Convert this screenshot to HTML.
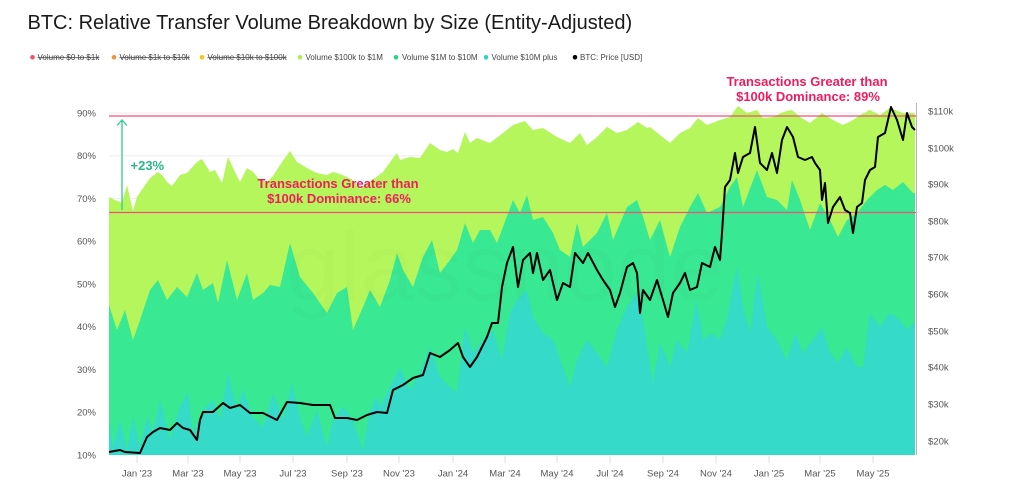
<!DOCTYPE html>
<html>
<head>
<meta charset="utf-8">
<style>
  html, body { margin:0; padding:0; background:#ffffff; }
  body { width:1024px; height:494px; overflow:hidden; font-family:"Liberation Sans", Arial, sans-serif; }
  svg { display:block; }
  .ax { font-family:"Liberation Sans", Arial, sans-serif; font-size:9.5px; fill:#555; }
  .lg { font-family:"Liberation Sans", Arial, sans-serif; font-size:8px; fill:#444; }
  .ann { font-family:"Liberation Sans", Arial, sans-serif; font-size:13px; font-weight:bold; fill:#f01c5e; }
</style>
</head>
<body>
<svg width="1024" height="494" viewBox="0 0 1024 494" xmlns="http://www.w3.org/2000/svg">
  <rect x="0" y="0" width="1024" height="494" fill="#ffffff"/>

  <!-- Title -->
  <text x="27.5" y="29" font-family="Liberation Sans, Arial, sans-serif" font-size="20" fill="#1a1a1a">BTC: Relative Transfer Volume Breakdown by Size (Entity-Adjusted)</text>

  <!-- Legend -->
  <circle cx="32.5" cy="57.3" r="2.3" fill="#f4506e"/>
  <text class="lg" x="37.5" y="60" text-decoration="line-through">Volume $0 to $1k</text>
  <circle cx="114" cy="57.3" r="2.3" fill="#f7923a"/>
  <text class="lg" x="119.5" y="60" text-decoration="line-through">Volume $1k to $10k</text>
  <circle cx="202" cy="57.3" r="2.3" fill="#f5c518"/>
  <text class="lg" x="207.5" y="60" text-decoration="line-through">Volume $10k to $100k</text>
  <circle cx="300" cy="57.3" r="2.3" fill="#a8f04a"/>
  <text class="lg" x="305.5" y="60">Volume $100k to $1M</text>
  <circle cx="396" cy="57.3" r="2.3" fill="#22d884"/>
  <text class="lg" x="402" y="60">Volume $1M to $10M</text>
  <circle cx="486" cy="57.3" r="2.3" fill="#2ed4c0"/>
  <text class="lg" x="491.5" y="60">Volume $10M plus</text>
  <circle cx="575" cy="57.3" r="2.3" fill="#000000"/>
  <text class="lg" x="580" y="60">BTC: Price [USD]</text>

  <!-- Gridlines -->
  <g stroke="#eeeeee" stroke-width="1">
    <line x1="109" y1="113" x2="915" y2="113"/>
    <line x1="109" y1="155.75" x2="915" y2="155.75"/>
    <line x1="109" y1="198.5" x2="915" y2="198.5"/>
    <line x1="109" y1="241.25" x2="915" y2="241.25"/>
    <line x1="109" y1="284" x2="915" y2="284"/>
    <line x1="109" y1="326.75" x2="915" y2="326.75"/>
    <line x1="109" y1="369.5" x2="915" y2="369.5"/>
    <line x1="109" y1="412.25" x2="915" y2="412.25"/>
  </g>

  <!-- Lime area ($100k to $1M) -->
  <path fill="#b5f65c" d="M109,455 L109,197 L115,200 L122,203 L127,185 L133,211 L137,197 L143,188 L150,178 L158,172 L163,176 L167,182 L172,186 L180,175 L187,173 L197,162 L202,159 L210,172 L215,170 L222,183 L228,157 L235,172 L240,182 L247,168 L253,172 L260,180 L267,182 L273,176 L282,162 L290,151 L297,162 L307,168 L317,173 L327,175 L333,172 L340,174 L347,177 L353,180 L360,189 L367,183 L375,178 L383,172 L393,158 L397,153 L400,160 L410,157 L420,158 L430,143 L440,150 L447,152 L453,149 L458,153 L465,132 L470,143 L477,138 L490,143 L503,133 L513,125 L525,121 L533,130 L543,128 L557,137 L570,143 L580,133 L587,145 L597,137 L607,127 L617,133 L627,130 L638,122 L647,128 L650,127 L660,135 L670,143 L680,133 L690,128 L698,118 L707,125 L720,120 L730,117 L738,106 L747,113 L757,110 L763,118 L773,117 L783,112 L792,110 L800,117 L810,123 L822,113 L833,120 L843,125 L853,120 L860,115 L870,110 L880,115 L890,108 L903,113 L913,113 L915,114 L915,455 Z"/>

  <!-- Green area ($1M to $10M) -->
  <path fill="#39e893" d="M109,455 L109,305 L117,330 L125,310 L133,340 L140,320 L150,290 L158,280 L167,300 L177,287 L187,297 L197,273 L203,290 L213,283 L218,303 L227,260 L237,300 L247,273 L253,300 L263,293 L270,285 L280,287 L290,243 L300,277 L313,293 L327,313 L337,293 L347,287 L353,330 L363,307 L370,290 L380,307 L390,280 L397,253 L403,270 L413,287 L423,257 L432,240 L440,273 L450,260 L457,250 L465,223 L473,243 L480,230 L490,230 L497,243 L503,227 L513,200 L520,213 L527,195 L533,220 L543,217 L553,233 L560,250 L570,257 L577,223 L583,247 L597,233 L607,213 L613,240 L627,207 L637,200 L643,217 L650,240 L660,220 L670,257 L680,227 L690,207 L698,193 L707,213 L720,207 L730,187 L737,177 L743,207 L757,170 L767,197 L777,200 L787,210 L792,180 L800,200 L810,230 L820,203 L830,220 L838,237 L847,220 L857,213 L867,200 L877,190 L885,185 L893,190 L903,182 L913,193 L915,193 L915,455 Z"/>

  <!-- Teal area ($10M plus) -->
  <path fill="#35dac8" d="M109,455 L109,420 L113,447 L120,420 L127,450 L133,417 L140,447 L147,417 L153,433 L160,400 L170,440 L180,407 L188,393 L193,433 L203,410 L213,400 L220,420 L228,373 L237,410 L243,390 L253,417 L263,427 L273,393 L283,420 L292,383 L300,417 L307,437 L317,410 L327,447 L333,420 L343,407 L353,420 L363,450 L370,410 L377,397 L380,407 L390,387 L400,367 L410,390 L420,373 L430,347 L440,377 L450,387 L457,393 L465,327 L473,353 L483,340 L493,330 L502,360 L510,313 L517,300 L527,290 L533,317 L543,333 L553,340 L563,367 L570,387 L577,360 L587,340 L597,353 L607,367 L617,330 L627,307 L637,293 L643,320 L647,347 L653,383 L660,343 L670,367 L677,340 L687,353 L697,300 L703,340 L712,333 L720,340 L727,320 L737,267 L743,307 L750,333 L758,273 L767,327 L777,340 L787,360 L795,333 L803,353 L813,340 L822,327 L830,353 L838,363 L847,347 L857,367 L863,367 L870,313 L880,327 L890,313 L900,320 L907,330 L913,323 L915,323 L915,455 Z"/>

  <!-- Watermark -->
  <text x="505" y="300" text-anchor="middle" font-family="Liberation Sans, Arial, sans-serif" font-size="96" fill="#000" fill-opacity="0.015">glassnode</text>

  <!-- Reference lines -->
  <line x1="109" y1="116" x2="916" y2="116" stroke="#f0507a" stroke-width="1.3"/>
  <line x1="109" y1="212.5" x2="916" y2="212.5" stroke="#f0507a" stroke-width="1.3"/>

  <!-- Price line -->
  <polyline fill="none" stroke="#000" stroke-width="2" stroke-linejoin="round" points="109,452 120,450 125,452 140,453 147,437 153,432 160,428 170,430 177,423 183,428 190,430 197,440 200,420 203,412 213,412 223,403 230,408 240,405 250,413 263,413 277,420 287,402 300,403 313,405 330,405 335,418 347,418 357,420 367,415 377,412 387,413 393,390 403,385 413,378 423,375 430,353 440,357 450,350 458,343 463,357 470,367 477,357 487,337 492,323 498,323 502,287 507,263 513,247 518,287 523,260 530,253 533,273 537,253 543,280 550,270 557,300 563,283 570,287 575,253 583,263 588,253 597,270 603,280 610,290 615,307 620,293 627,267 633,263 637,273 640,313 643,290 650,300 657,280 663,300 668,317 673,293 680,283 685,273 690,290 697,287 702,263 710,267 715,247 720,260 722,233 725,187 730,180 735,153 738,173 743,157 750,153 755,127 760,163 767,170 772,153 777,173 782,140 787,127 793,137 798,157 805,160 812,157 815,163 820,170 822,200 825,183 828,223 833,207 840,197 845,210 850,213 853,233 857,207 862,203 865,180 870,170 875,167 878,137 885,133 891,107 897,120 900,130 903,140 907,113 912,127 915,130"/>

  <!-- Right axis line -->
  <line x1="916.5" y1="103" x2="916.5" y2="455" stroke="#b5b5b5" stroke-width="1"/>

  <!-- Arrow and +23% -->
  <line x1="122" y1="210" x2="122" y2="120" stroke="#2ecc8f" stroke-width="1.3"/>
  <polyline points="117,125.5 122,120 127,125.5" fill="none" stroke="#2ecc8f" stroke-width="1.3"/>
  <text x="130.5" y="170" font-family="Liberation Sans, Arial, sans-serif" font-size="13" font-weight="bold" fill="#2ab985">+23%</text>

  <!-- Annotations -->
  <text class="ann" x="338" y="188" text-anchor="middle">Transactions Greater than</text>
  <text class="ann" x="339" y="203" text-anchor="middle">$100k Dominance: 66%</text>
  <text class="ann" x="807" y="86" text-anchor="middle">Transactions Greater than</text>
  <text class="ann" x="808" y="101" text-anchor="middle">$100k Dominance: 89%</text>

  <!-- Left axis labels -->
  <g class="ax" text-anchor="end">
    <text x="96" y="116.5">90%</text>
    <text x="96" y="159">80%</text>
    <text x="96" y="202">70%</text>
    <text x="96" y="244.5">60%</text>
    <text x="96" y="287.5">50%</text>
    <text x="96" y="330">40%</text>
    <text x="96" y="373">30%</text>
    <text x="96" y="415.5">20%</text>
    <text x="96" y="458.5">10%</text>
  </g>

  <!-- Right axis labels -->
  <g class="ax" text-anchor="start">
    <text x="928" y="114.5">$110k</text>
    <text x="928" y="151.5">$100k</text>
    <text x="928" y="187.5">$90k</text>
    <text x="928" y="224.5">$80k</text>
    <text x="928" y="260.5">$70k</text>
    <text x="928" y="297.5">$60k</text>
    <text x="928" y="334.5">$50k</text>
    <text x="928" y="370.5">$40k</text>
    <text x="928" y="407.5">$30k</text>
    <text x="928" y="444.5">$20k</text>
  </g>

  <!-- X ticks -->
  <g stroke="#dddddd" stroke-width="1">
    <line x1="137" y1="456" x2="137" y2="463"/>
    <line x1="188" y1="456" x2="188" y2="463"/>
    <line x1="240" y1="456" x2="240" y2="463"/>
    <line x1="293" y1="456" x2="293" y2="463"/>
    <line x1="347" y1="456" x2="347" y2="463"/>
    <line x1="399" y1="456" x2="399" y2="463"/>
    <line x1="453" y1="456" x2="453" y2="463"/>
    <line x1="505" y1="456" x2="505" y2="463"/>
    <line x1="557" y1="456" x2="557" y2="463"/>
    <line x1="610" y1="456" x2="610" y2="463"/>
    <line x1="663" y1="456" x2="663" y2="463"/>
    <line x1="716" y1="456" x2="716" y2="463"/>
    <line x1="769" y1="456" x2="769" y2="463"/>
    <line x1="820" y1="456" x2="820" y2="463"/>
    <line x1="873" y1="456" x2="873" y2="463"/>
  </g>

  <!-- X labels -->
  <g class="ax" text-anchor="middle">
    <text x="137" y="476.5">Jan '23</text>
    <text x="188" y="476.5">Mar '23</text>
    <text x="240" y="476.5">May '23</text>
    <text x="293" y="476.5">Jul '23</text>
    <text x="347" y="476.5">Sep '23</text>
    <text x="399" y="476.5">Nov '23</text>
    <text x="453" y="476.5">Jan '24</text>
    <text x="505" y="476.5">Mar '24</text>
    <text x="557" y="476.5">May '24</text>
    <text x="610" y="476.5">Jul '24</text>
    <text x="663" y="476.5">Sep '24</text>
    <text x="716" y="476.5">Nov '24</text>
    <text x="769" y="476.5">Jan '25</text>
    <text x="820" y="476.5">Mar '25</text>
    <text x="873" y="476.5">May '25</text>
  </g>
</svg>
</body>
</html>
